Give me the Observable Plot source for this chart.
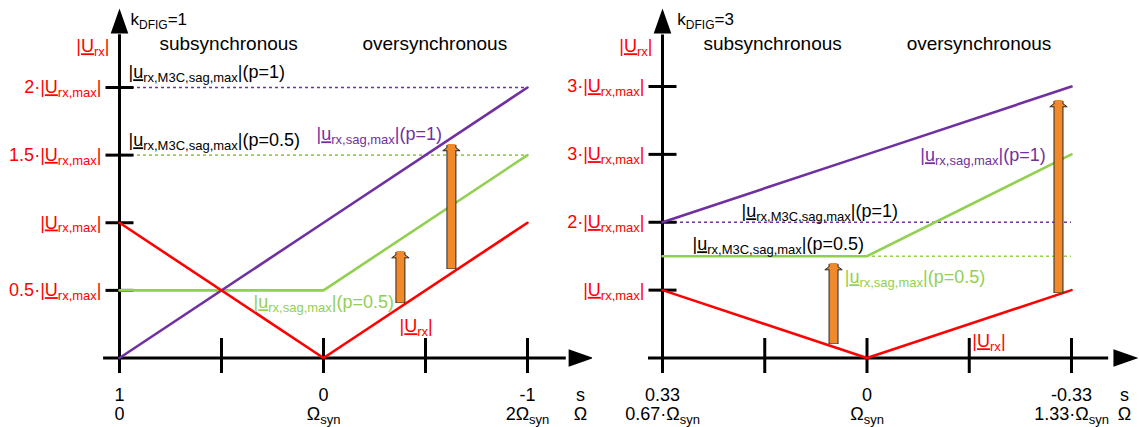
<!DOCTYPE html>
<html><head><meta charset="utf-8">
<script src="https://cdn.jsdelivr.net/npm/d3@7"></script>
<script src="https://cdn.jsdelivr.net/npm/@observablehq/plot@0.6"></script>
<style>
body{margin:0;background:#fff;}
#wrap{display:flex;width:1139px;height:427px;overflow:hidden;}
#wrap svg{overflow:visible;display:block;}
</style></head><body><div id="wrap"></div>
<script>
// ---------- data: left panel (k_DFIG = 1) ----------
const sLeft = [1, 0, -1];
const redLeft = [1, 0, 1];          // |U_rx|
const purpleLeft = [0, 1, 2];       // |u_rx,sag,max|(p=1)
const greenLeft = [0.5, 0.5, 1.5];  // |u_rx,sag,max|(p=0.5)
const m3cP1Left = 2;                // |u_rx,M3C,sag,max|(p=1)
const m3cP05Left = 1.5;             // |u_rx,M3C,sag,max|(p=0.5)
const xTicksLeft = [1, 0.5, 0, -0.5, -1];
const yTicksLeft = [0.5, 1, 1.5, 2];
const yTickLabelsLeft = ["0.5·|[U]_{rx,max}|", "|[U]_{rx,max}|", "1.5·|[U]_{rx,max}|", "2·|[U]_{rx,max}|"];
const sTickPosLeft = [1, 0, -1];
const sTickLabelsLeft = ["1", "0", "-1"];
const omegaTickLabelsLeft = ["0", "Ω_{syn}", "2Ω_{syn}"];
const arrowsLeft = [{s: -0.377, v1: 0.447, v2: 0.787}, {s: -0.627, v1: 0.699, v2: 1.579}];

// ---------- data: right panel (k_DFIG = 3) ----------
const sRight = [0.33, 0, -0.33];
const redRight = [1, 0, 1];
const purpleRight = [2, 3, 4];
const greenRight = [1.5, 1.5, 3];
const m3cP1Right = 2;
const m3cP05Right = 1.5;
const xTicksRight = [0.33, 0.165, 0, -0.165, -0.33];
const yTicksRight = [1, 2, 3, 4];
const yTickLabelsRight = ["|[U]_{rx,max}|", "2·|[U]_{rx,max}|", "3·|[U]_{rx,max}|", "3·|[U]_{rx,max}|"];
const sTickPosRight = [0.33, 0, -0.33];
const sTickLabelsRight = ["0.33", "0", "-0.33"];
const omegaTickLabelsRight = ["0.67·Ω_{syn}", "Ω_{syn}", "1.33·Ω_{syn}"];
const arrowsRight = [{s: 0.054, v1: 0.287, v2: 1.392}, {s: -0.309, v1: 1.038, v2: 3.794}];

const RED = "#ff0000", PURPLE = "#7030a0", GREEN = "#92d050", ORANGE = "#f0892a", BLACK = "#000", OUTLINE = "#2a2a2a";

// annotation labels (positions in data units of each panel)
const notesLeft = [
  {text: "k_{DFIG}=1", s: 0.946, v: 2.503, color: BLACK, size: 17},
  {text: "subsynchronous", s: 0.804, v: 2.325, color: BLACK, size: 19},
  {text: "oversynchronous", s: -0.191, v: 2.325, color: BLACK, size: 19},
  {text: "|[u]_{rx,M3C,sag,max}|(p=1)", s: 0.956, v: 2.111, color: BLACK, size: 18},
  {text: "|[u]_{rx,M3C,sag,max}|(p=0.5)", s: 0.956, v: 1.608, color: BLACK, size: 18},
  {text: "|[u]_{rx,sag,max}|(p=1)", s: 0.034, v: 1.652, color: PURPLE, size: 18},
  {text: "|[u]_{rx,sag,max}|(p=0.5)", s: 0.343, v: 0.410, color: GREEN, size: 18},
  {text: "|[U]_{rx}|", s: -0.373, v: 0.233, color: RED, size: 18}
];
const notesRight = [
  {text: "k_{DFIG}=3", s: 0.306, v: 4.987, color: BLACK, size: 17},
  {text: "subsynchronous", s: 0.264, v: 4.633, color: BLACK, size: 19},
  {text: "oversynchronous", s: -0.064, v: 4.633, color: BLACK, size: 19},
  {text: "|[u]_{rx,sag,max}|(p=1)", s: -0.086, v: 2.983, color: PURPLE, size: 18},
  {text: "|[u]_{rx,M3C,sag,max}|(p=1)", s: 0.2025, v: 2.158, color: BLACK, size: 18},
  {text: "|[u]_{rx,M3C,sag,max}|(p=0.5)", s: 0.2816, v: 1.672, color: BLACK, size: 18},
  {text: "|[u]_{rx,sag,max}|(p=0.5)", s: 0.036, v: 1.186, color: GREEN, size: 18},
  {text: "|[U]_{rx}|", s: -0.170, v: 0.243, color: RED, size: 18}
];

// ---------- custom symbols ----------
const axisHead = {draw(ctx) { ctx.moveTo(0, 0); ctx.lineTo(-25, -8.8); ctx.lineTo(-25, 8.8); ctx.closePath(); }};
const blockHead = {draw(ctx) { ctx.moveTo(0, 0); ctx.lineTo(8.7, 6.3); ctx.lineTo(-8.7, 6.3); ctx.closePath(); }};
const yTickSym = {draw(ctx) { ctx.moveTo(-14, 0); ctx.lineTo(14, 0); }};
const xTickSym = {draw(ctx) { ctx.moveTo(0, -20); ctx.lineTo(0, 15); }};

function panel(cfg) {
  const rows = (vals, name) => cfg.s.map((s, i) => ({s, v: vals[i], name}));
  const origin = cfg.s[0];
  return Plot.plot({
    width: cfg.width, height: 427, margin: 0,
    x: {domain: cfg.xDomain, range: cfg.xRange, axis: null},
    y: {domain: cfg.yDomain, range: cfg.yRange, axis: null},
    color: {type: "identity"},
    style: {fontFamily: "'Liberation Sans', Arial, sans-serif", background: "white", overflow: "visible"},
    marks: [
      // dotted M3C limits
      Plot.ruleY([cfg.m3cP1], {x1: origin, x2: cfg.s[2], stroke: PURPLE, strokeWidth: 1.6, strokeDasharray: "3,3"}),
      Plot.ruleY([cfg.m3cP05], {x1: origin, x2: cfg.s[2], stroke: GREEN, strokeWidth: 1.6, strokeDasharray: "3,3"}),
      // axes
      Plot.ruleY([0], {x1: cfg.xAxis[0], x2: cfg.xAxis[1], stroke: BLACK, strokeWidth: 3}),
      Plot.ruleX([origin], {y1: cfg.yAxis[0], y2: cfg.yAxis[1], stroke: BLACK, strokeWidth: 3}),
      Plot.dot([cfg.xAxis[2]], {x: d => d, y: () => 0, symbol: axisHead, fill: BLACK, stroke: "none", r: 5}),
      Plot.dot([cfg.yAxis[2]], {x: () => origin, y: d => d, symbol: axisHead, fill: BLACK, stroke: "none", r: 5, rotate: -90}),
      Plot.dot(cfg.xTicks, {x: d => d, y: () => 0, symbol: xTickSym, stroke: BLACK, strokeWidth: 3, fill: "none", r: 5}),
      Plot.dot(cfg.yTicks, {x: () => origin, y: d => d, symbol: yTickSym, stroke: BLACK, strokeWidth: 3, fill: "none", r: 5}),
      // series
      Plot.line(rows(cfg.green, "g"), {x: "s", y: "v", stroke: GREEN, strokeWidth: 2.6}),
      Plot.line(rows(cfg.purple, "p"), {x: "s", y: "v", stroke: PURPLE, strokeWidth: 2.6}),
      Plot.line(rows(cfg.red, "r"), {x: "s", y: "v", stroke: RED, strokeWidth: 2.6}),
      // block arrows
      Plot.ruleX(cfg.arrows, {x: "s", y1: "v1", y2: "v2", stroke: OUTLINE, strokeWidth: 10, insetTop: 6, insetBottom: -1}),
      Plot.dot(cfg.arrows, {x: "s", y: "v2", symbol: blockHead, fill: ORANGE, stroke: OUTLINE, strokeWidth: 1, r: 5}),
      Plot.ruleX(cfg.arrows, {x: "s", y1: "v1", y2: "v2", stroke: ORANGE, strokeWidth: 8, insetTop: 5.5}),
      // y tick labels
      Plot.text(cfg.yTicks, {x: () => origin, y: d => d, text: (d, i) => cfg.yLabels[i], fill: RED, fontSize: 18, textAnchor: "end", dx: -18}),
      Plot.text(["|[U]_{rx}|"], {x: () => origin, y: () => cfg.urxTitleV, text: d => d, fill: RED, fontSize: 18, textAnchor: "end", dx: -10}),
      // x tick labels
      Plot.text(cfg.sTickPos, {x: d => d, y: () => 0, text: (d, i) => cfg.sLabels[i], fill: BLACK, fontSize: 18, dy: 37}),
      Plot.text(cfg.sTickPos, {x: d => d, y: () => 0, text: (d, i) => cfg.omegaLabels[i], fill: BLACK, fontSize: 18, dy: 56}),
      Plot.text(["s"], {x: () => cfg.sAxisLabelX, y: () => 0, text: d => d, fill: BLACK, fontSize: 18, dy: 37}),
      Plot.text(["Ω"], {x: () => cfg.sAxisLabelX, y: () => 0, text: d => d, fill: BLACK, fontSize: 18, dy: 56}),
      // annotations
      Plot.text(cfg.notes, {x: "s", y: "v", text: "text", fill: "color", fontSize: "size", textAnchor: "start"})
    ]
  });
}

const left = panel({
  width: 592, s: sLeft, red: redLeft, purple: purpleLeft, green: greenLeft,
  m3cP1: m3cP1Left, m3cP05: m3cP05Left,
  xDomain: [1, -1], xRange: [119, 527], yDomain: [0, 2], yRange: [357.5, 87],
  xAxis: [1.078, -1.19, -1.324], yAxis: [-0.107, 2.39, 2.584],
  xTicks: xTicksLeft, yTicks: yTicksLeft, yLabels: yTickLabelsLeft, urxTitleV: 2.303,
  sTickPos: sTickPosLeft, sLabels: sTickLabelsLeft, omegaLabels: omegaTickLabelsLeft, sAxisLabelX: -1.26,
  arrows: arrowsLeft, notes: notesLeft
});
const right = panel({
  width: 547, s: sRight, red: redRight, purple: purpleRight, green: greenRight,
  m3cP1: m3cP1Right, m3cP05: m3cP05Right,
  xDomain: [0.33, -0.33], xRange: [70, 479], yDomain: [0, 4], yRange: [357.5, 86],
  xAxis: [0.3526, -0.39, -0.438], yAxis: [-0.214, 4.76, 5.149],
  xTicks: xTicksRight, yTicks: yTicksRight, yLabels: yTickLabelsRight, urxTitleV: 4.589,
  sTickPos: sTickPosRight, sLabels: sTickLabelsRight, omegaLabels: omegaTickLabelsRight, sAxisLabelX: -0.4156,
  arrows: arrowsRight, notes: notesRight
});
const wrap = document.getElementById("wrap");
wrap.appendChild(left);
wrap.appendChild(right);

// rich text: _{...} -> subscript, [...] -> underlined
const NS = "http://www.w3.org/2000/svg";
function richify(root) {
  root.querySelectorAll("text").forEach(t => {
    const src = t.textContent;
    if (!/_\{|\[/.test(src)) return;
    const fs = parseFloat(getComputedStyle(t).fontSize) || 18;
    const sub = Math.round(fs * 0.72);
    const shift = fs * 0.22;
    t.textContent = "";
    let off = 0, i = 0;
    const add = (txt, kind) => {
      const ts = document.createElementNS(NS, "tspan");
      ts.textContent = txt;
      if (kind === "sub") {
        ts.setAttribute("font-size", sub);
        ts.setAttribute("dy", shift - off); off = shift;
      } else {
        if (off) ts.setAttribute("dy", -off);
        off = 0;
        if (kind === "u") ts.setAttribute("text-decoration", "underline");
      }
      t.appendChild(ts);
    };
    while (i < src.length) {
      if (src.startsWith("_{", i)) {
        const j = src.indexOf("}", i); add(src.slice(i + 2, j), "sub"); i = j + 1;
      } else if (src[i] === "[") {
        const j = src.indexOf("]", i); add(src.slice(i + 1, j), "u"); i = j + 1;
      } else {
        let j = i;
        while (j < src.length && !src.startsWith("_{", j) && src[j] !== "[") j++;
        add(src.slice(i, j), "n"); i = j;
      }
    }
  });
}
richify(wrap);
</script>
</body></html>
